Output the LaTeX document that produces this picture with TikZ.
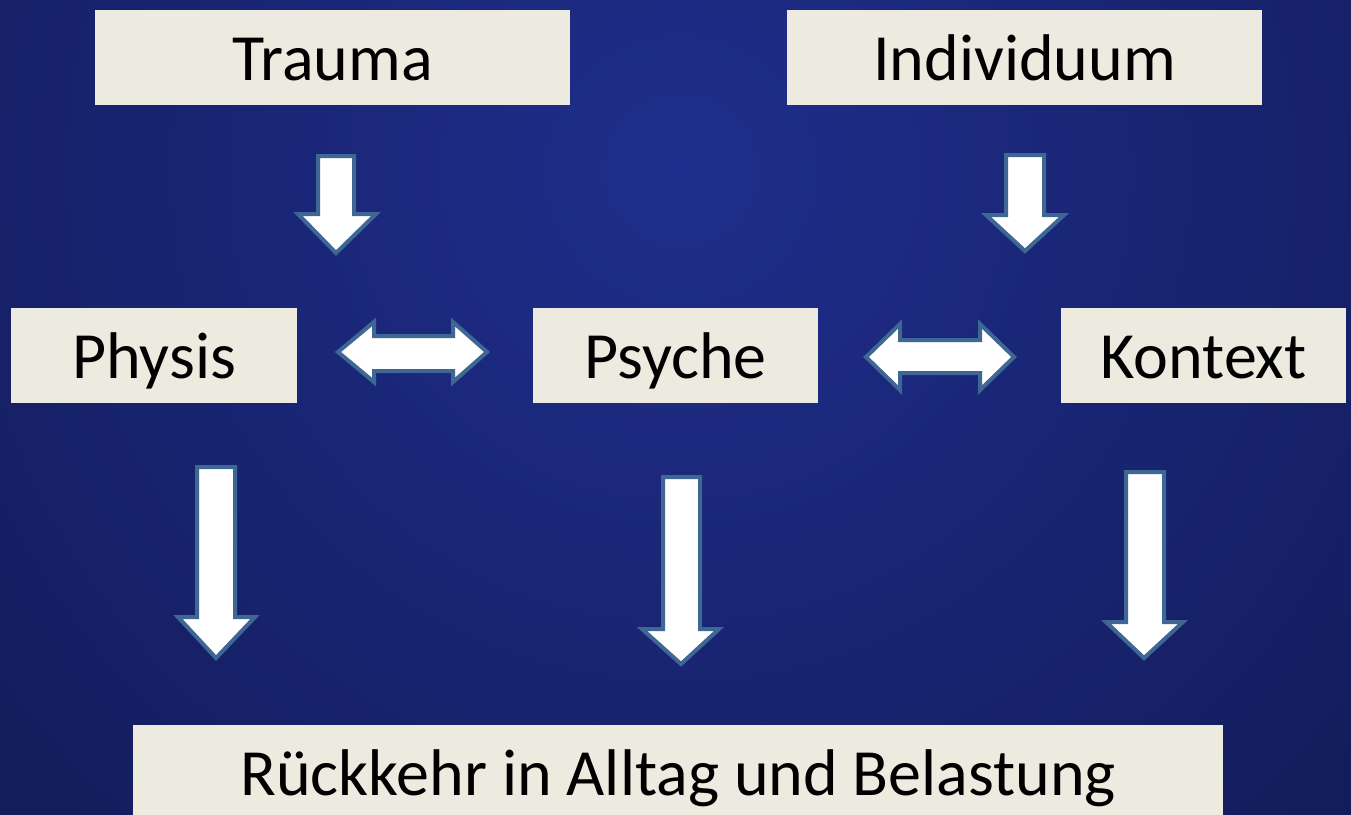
\documentclass[tikz,border=0pt]{standalone}
\usepackage{fontspec}
\setmainfont{Carlito}
\definecolor{boxfill}{HTML}{EDEBE0}
\definecolor{arrowline}{HTML}{3F6794}
\definecolor{bgin}{RGB}{31,46,140}
\definecolor{bgout}{RGB}{10,16,56}
\begin{document}
\begin{tikzpicture}[x=1pt,y=-1pt,
  box/.style={fill=boxfill, inner sep=0pt, text height=45pt, text depth=0pt,
    font=\fontsize{66}{70}\selectfont, anchor=north west, text=black},
  blockarrow/.style={fill=white, draw=arrowline, line width=4pt, line join=miter}]
\useasboundingbox (0,0) rectangle (1351,814);
\begin{scope}
\clip (0,0) rectangle (1351,814);
\shade[inner color=bgin, outer color=bgout] (680,170) circle (1600pt);
\end{scope}

% boxes
\node[box, minimum width=475pt, minimum height=95pt] (trauma) at (95,10) {Trauma};
\node[box, minimum width=475pt, minimum height=95pt] (individuum) at (787,10) {Individuum};
\node[box, minimum width=286pt, minimum height=95pt] (physis) at (11,308) {Physis};
\node[box, minimum width=285pt, minimum height=95pt] (psyche) at (533,308) {Psyche};
\node[box, minimum width=285pt, minimum height=95pt] (kontext) at (1061,308) {Kontext};
\node[box, minimum width=1090pt, minimum height=95pt] (rueckkehr) at (133,725) {R\"uckkehr in Alltag und Belastung};

% short down arrows
\draw[blockarrow] (318,156) -- (354,156) -- (354,214) -- (376,214) -- (336,253)
  -- (298,214) -- (318,214) -- cycle;
\draw[blockarrow] (1006,155) -- (1044,155) -- (1044,215) -- (1064,215) -- (1025,251)
  -- (986,215) -- (1006,215) -- cycle;

% double arrows
\draw[blockarrow] (338,352) -- (374,322) -- (374,336) -- (453,336) -- (453,322)
  -- (487,352) -- (453,382) -- (453,371) -- (374,371) -- (374,382) -- cycle;
\draw[blockarrow] (866,357) -- (900,324) -- (900,340) -- (980,340) -- (980,324)
  -- (1014,357) -- (980,390) -- (980,373) -- (900,373) -- (900,390) -- cycle;

% long down arrows
\draw[blockarrow] (197,467) -- (235,467) -- (235,617) -- (255,617) -- (216,658)
  -- (178,617) -- (197,617) -- cycle;
\draw[blockarrow] (663,477) -- (700,477) -- (700,629) -- (719,629) -- (681,664)
  -- (642,629) -- (663,629) -- cycle;
\draw[blockarrow] (1126,472) -- (1164,472) -- (1164,622) -- (1183,622) -- (1144,658)
  -- (1106,622) -- (1126,622) -- cycle;
\end{tikzpicture}
\end{document}
